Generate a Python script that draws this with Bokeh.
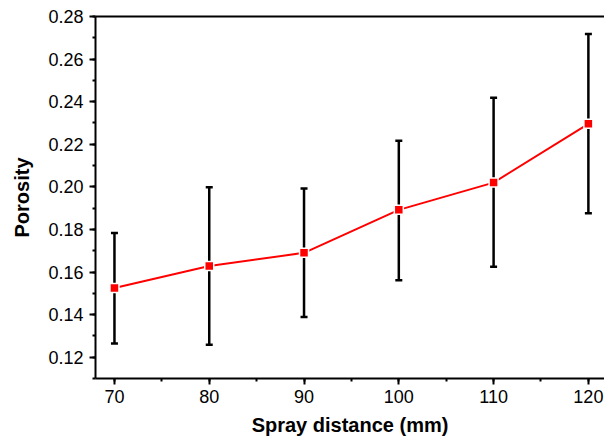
from bokeh.plotting import figure
from bokeh.models import (ColumnDataSource, Whisker, TeeHead, Range1d, LinearAxis,
                          SingleIntervalTicker, FixedTicker, NumeralTickFormatter)
from bokeh.embed import file_html
from bokeh.resources import INLINE

# Data
spray_distance = [70, 80, 90, 100, 110, 120]
porosity = [0.1525, 0.1628, 0.1690, 0.1892, 0.2020, 0.2296]
err_upper = [0.1783, 0.1998, 0.1992, 0.2216, 0.2418, 0.2718]
err_lower = [0.1264, 0.1258, 0.1389, 0.1561, 0.1625, 0.1876]

FONT = "Liberation Sans"

src = ColumnDataSource(dict(x=spray_distance, y=porosity, up=err_upper, lo=err_lower))

p = figure(width=604, height=439, output_backend="svg", toolbar_location=None,
           x_range=Range1d(68.0, 121.7), y_range=Range1d(0.11, 0.28),
           min_border_left=95, min_border_right=0, min_border_top=16, min_border_bottom=61)
p.outline_line_color = None
p.xgrid.visible = False
p.ygrid.visible = False
p.background_fill_color = "white"
p.border_fill_color = "white"

for ax in (p.xaxis[0], p.yaxis[0]):
    ax.axis_line_width = 2
    ax.axis_line_color = "black"
    ax.major_tick_line_width = 2
    ax.minor_tick_line_width = 2
    ax.major_tick_line_color = "black"
    ax.minor_tick_line_color = "black"
    ax.major_tick_out = 6
    ax.major_tick_in = 0
    ax.minor_tick_out = 3
    ax.minor_tick_in = 0
    ax.major_label_text_font = FONT
    ax.major_label_text_font_size = "18px"
    ax.major_label_text_color = "black"
    ax.axis_label_text_font = FONT
    ax.axis_label_text_font_style = "bold"
    ax.axis_label_text_font_size = "20px"
    ax.axis_label_text_color = "black"

p.xaxis[0].ticker = SingleIntervalTicker(interval=10, num_minor_ticks=2)
p.yaxis[0].ticker = SingleIntervalTicker(interval=0.02, num_minor_ticks=2)
p.yaxis[0].formatter = NumeralTickFormatter(format="0.00")
p.xaxis[0].axis_label = "Spray distance (mm)"
p.yaxis[0].axis_label = "Porosity"
p.xaxis[0].major_label_standoff = 5
p.yaxis[0].major_label_standoff = 6
p.xaxis[0].axis_label_standoff = 8
p.yaxis[0].axis_label_standoff = 12

top = LinearAxis(ticker=FixedTicker(ticks=[]), major_tick_in=0, major_tick_out=0,
                 minor_tick_in=0, minor_tick_out=0, axis_line_width=2, axis_line_color="black")
p.add_layout(top, "above")

wh = Whisker(source=src, base="x", upper="up", lower="lo", line_color="black", line_width=2.5,
             upper_head=TeeHead(size=7, line_width=2.5, line_color="black"),
             lower_head=TeeHead(size=7, line_width=2.5, line_color="black"))
p.add_layout(wh)

p.line("x", "y", source=src, line_color="#ff0000", line_width=2)
p.scatter("x", "y", source=src, marker="square", size=9, fill_color="#ff0000",
          line_color="white", line_width=1.5)

open("out.html", "w").write(file_html(p, INLINE))
